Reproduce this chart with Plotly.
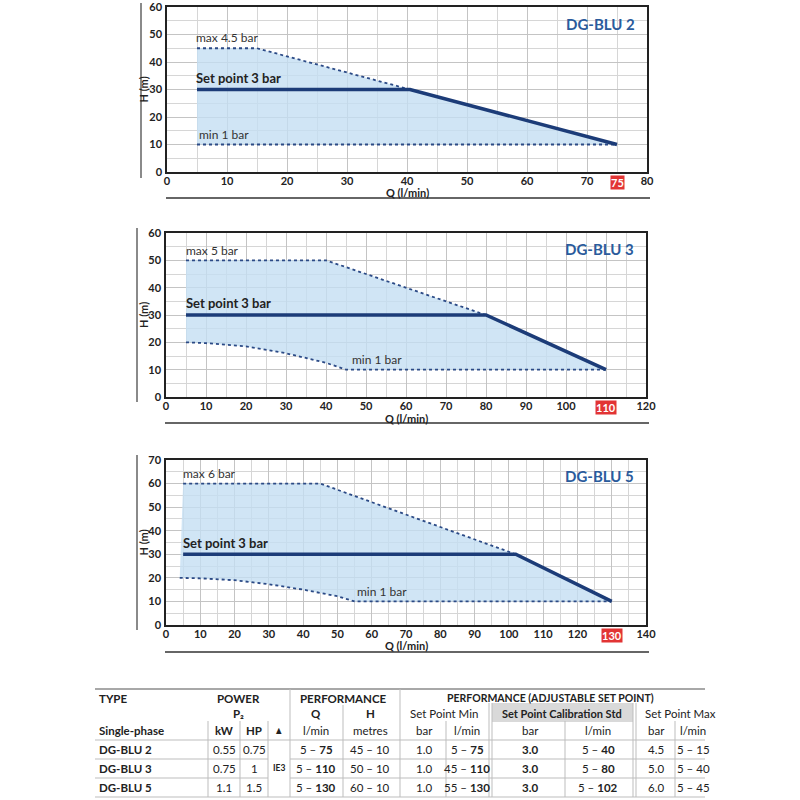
#!/usr/bin/env python3
"""DG-BLU pump curves (set point ranges) with performance table, as Plotly HTML."""
import plotly.graph_objects as go

FONT = "Lato, Liberation Sans Narrow, DejaVu Sans Condensed, sans-serif"
NAVY = "#1c3c78"
DOT = "#2b4a86"
FILL = "rgba(196,223,242,0.8)"
TITLE_BLUE = "#2a5b9c"

# ---- curve data (Q in l/min, H in m) ----
blu2_max_q = [5, 15, 40.5]
blu2_max_h = [45, 45, 30]
blu2_sp_q = [5, 40.5, 75]
blu2_sp_h = [30, 30, 10]
blu2_min_q = [5, 75]
blu2_min_h = [10, 10]

blu3_max_q = [5, 40, 80]
blu3_max_h = [50, 50, 30]
blu3_sp_q = [5, 80, 110]
blu3_sp_h = [30, 30, 10]
blu3_min_q = [5, 10, 20, 30, 40, 45, 110]
blu3_min_h = [20, 19.7, 18.5, 16, 12.5, 10, 10]

blu5_max_q = [5, 45, 102]
blu5_max_h = [60, 60, 30]
blu5_sp_q = [5, 102, 130]
blu5_sp_h = [30, 30, 10]
blu5_min_q = [4, 10, 20, 30, 40, 50, 55, 130]
blu5_min_h = [20, 19.8, 19, 17.3, 15, 12.2, 10, 10]

# ---- table data ----
types = ["DG-BLU 2", "DG-BLU 3", "DG-BLU 5"]
power_kw = ["0.55", "0.75", "1.1"]
power_hp = ["0.75", "1", "1.5"]
q_from = ["5", "5", "5"]
q_to = ["75", "110", "130"]
h_range = ["45 – 10", "50 – 10", "60 – 10"]
spmin_bar = ["1.0", "1.0", "1.0"]
spmin_q_from = ["5", "45", "55"]
spmin_q_to = ["75", "110", "130"]
spstd_bar = ["3.0", "3.0", "3.0"]
spstd_q_from = ["5", "5", "5"]
spstd_q_to = ["40", "80", "102"]
spmax_bar = ["4.5", "5.0", "6.0"]
spmax_q = ["5 – 15", "5 – 40", "5 – 45"]


def px(x):
    return x / 800


def py(y):
    return 1 - y / 800


charts = [
    dict(name="DG-BLU 2", xmax=80, ymax=60, qmax=75,
         max_q=blu2_max_q, max_h=blu2_max_h, sp_q=blu2_sp_q, sp_h=blu2_sp_h,
         min_q=blu2_min_q, min_h=blu2_min_h,
         max_label="max 4.5 bar", min_label_x=5,
         box=(167, 647, 7, 172), vline=(141, 3, 178), hline=198, ytitle=143, xtitle=193),
    dict(name="DG-BLU 3", xmax=120, ymax=60, qmax=110,
         max_q=blu3_max_q, max_h=blu3_max_h, sp_q=blu3_sp_q, sp_h=blu3_sp_h,
         min_q=blu3_min_q, min_h=blu3_min_h,
         max_label="max 5 bar", min_label_x=46,
         box=(166, 646, 233, 397), vline=(137, 228, 402), hline=423, ytitle=143, xtitle=418),
    dict(name="DG-BLU 5", xmax=140, ymax=70, qmax=130,
         max_q=blu5_max_q, max_h=blu5_max_h, sp_q=blu5_sp_q, sp_h=blu5_sp_h,
         min_q=blu5_min_q, min_h=blu5_min_h,
         max_label="max 6 bar", min_label_x=55,
         box=(166, 646, 460, 625), vline=(137, 455, 630), hline=652, ytitle=143, xtitle=645),
]

fig = go.Figure()
annotations = []
shapes = []
layout_axes = {}

for i, c in enumerate(charts, start=1):
    xa = "x" if i == 1 else f"x{i}"
    ya = "y" if i == 1 else f"y{i}"
    # shaded operating region
    fill_q = c["max_q"] + c["sp_q"][2:] + c["min_q"][::-1]
    fill_h = c["max_h"] + c["sp_h"][2:] + c["min_h"][::-1]
    fig.add_trace(go.Scatter(x=fill_q, y=fill_h, fill="toself", fillcolor=FILL,
                             line=dict(width=0), mode="lines", xaxis=xa, yaxis=ya,
                             hoverinfo="skip", showlegend=False))
    fig.add_trace(go.Scatter(x=c["max_q"], y=c["max_h"], mode="lines",
                             line=dict(color=DOT, width=1.8, dash="dot"),
                             xaxis=xa, yaxis=ya, showlegend=False))
    fig.add_trace(go.Scatter(x=c["min_q"], y=c["min_h"], mode="lines",
                             line=dict(color=DOT, width=1.8, dash="dot"),
                             xaxis=xa, yaxis=ya, showlegend=False))
    fig.add_trace(go.Scatter(x=c["sp_q"], y=c["sp_h"], mode="lines",
                             line=dict(color=NAVY, width=3.5),
                             xaxis=xa, yaxis=ya, showlegend=False))

    x0, x1, y0, y1 = c["box"]
    axis_common = dict(
        showline=True, linecolor="#222", linewidth=1.5, mirror=True, automargin=False,
        gridcolor="#c4c4c4", gridwidth=1, zeroline=False, ticks="",
        ticklabeloverflow="allow",
        tickfont=dict(family=FONT, size=11, color="#222", weight="bold"),
        minor=dict(dtick=5, showgrid=True, gridcolor="#d6d6d6", gridwidth=1),
    )
    layout_axes["xaxis" if i == 1 else f"xaxis{i}"] = dict(
        axis_common, domain=[px(x0), px(x1)], range=[0, c["xmax"]], dtick=10,
        anchor=ya, ticklabelstandoff=-2,
    )
    layout_axes["yaxis" if i == 1 else f"yaxis{i}"] = dict(
        axis_common, domain=[py(y1), py(y0)], range=[0, c["ymax"]], dtick=10,
        anchor=xa, ticklabelstandoff=1,
    )

    xd = "x domain" if i == 1 else f"x{i} domain"
    yd = "y domain" if i == 1 else f"y{i} domain"
    # red highlighted max flow label
    annotations.append(dict(x=c["qmax"], y=0, xref=xa, yref=yd, yanchor="top", yshift=-3,
                            text=f"<b>{c['qmax']}</b>", showarrow=False, bgcolor="#e23434",
                            borderpad=0, font=dict(family=FONT, size=11, color="white")))
    # curve labels
    annotations.append(dict(x=c["max_q"][0] - 0.5, y=c["max_h"][0] + 0.3, xref=xa, yref=ya,
                            xanchor="left", yanchor="bottom", text=c["max_label"], showarrow=False,
                            font=dict(family=FONT, size=12, color="#333")))
    annotations.append(dict(x=c["sp_q"][0] - 0.5, y=c["sp_h"][0] + 0.6, xref=xa, yref=ya,
                            xanchor="left", yanchor="bottom", text="<b>Set point 3 bar</b>",
                            showarrow=False, font=dict(family=FONT, size=13, color="#222")))
    annotations.append(dict(x=c["min_label_x"], y=10.2, xref=xa, yref=ya,
                            xanchor="left", yanchor="bottom", text="min 1 bar", showarrow=False,
                            font=dict(family=FONT, size=12, color="#333")))
    # model name
    annotations.append(dict(x=0.98, y=0.9, xref=xd, yref=yd, xanchor="right", yanchor="middle",
                            text=f"<b>{c['name']}</b>", showarrow=False,
                            font=dict(family=FONT, size=15, color=TITLE_BLUE)))
    # axis titles
    annotations.append(dict(x=px(c["ytitle"]), y=0.5, xref="paper", yref=yd, textangle=-90,
                            xanchor="center", yanchor="middle",
                            text="<b>H (m)</b>", showarrow=False,
                            font=dict(family=FONT, size=11, color="#222")))
    annotations.append(dict(x=0.5, y=py(c["xtitle"]), xref=xd, yref="paper",
                            xanchor="center", yanchor="middle",
                            text="<b>Q (l/min)</b>", showarrow=False,
                            font=dict(family=FONT, size=11, color="#222")))
    # decorative rules
    vx, vy0, vy1 = c["vline"]
    shapes.append(dict(type="line", xref="paper", yref="paper", x0=px(vx), x1=px(vx),
                       y0=py(vy0), y1=py(vy1), line=dict(color="#8a8a8a", width=2)))
    shapes.append(dict(type="line", xref="paper", yref="paper", x0=px(x0 - 1), x1=px(x1 + 3),
                       y0=py(c["hline"]), y1=py(c["hline"]), line=dict(color="#333", width=1.5)))

# ---- table ----
TF = dict(family=FONT, size=11.5, color="#222")


def cell(x, y, text, anchor="center", bold=False, size=11.5):
    t = f"<b>{text}</b>" if bold else text
    annotations.append(dict(x=px(x), y=py(y), xref="paper", yref="paper", xanchor=anchor,
                            yanchor="middle", text=t, showarrow=False,
                            font=dict(TF, size=size)))


def hline(y, xa, xb, color="#bdbdbd", width=1):
    shapes.append(dict(type="line", xref="paper", yref="paper", x0=px(xa), x1=px(xb),
                       y0=py(y), y1=py(y), line=dict(color=color, width=width)))


def vline(x, ya, yb, color="#bdbdbd", width=1):
    shapes.append(dict(type="line", xref="paper", yref="paper", x0=px(x), x1=px(x),
                       y0=py(ya), y1=py(yb), line=dict(color=color, width=width)))


# gray header cell behind the standard set point
shapes.append(dict(type="rect", xref="paper", yref="paper", x0=px(492), x1=px(633),
                   y0=py(703), y1=py(722), fillcolor="#d9d9d9", line=dict(width=0)))

hline(689, 95, 705, color="#a8a8a8", width=2)
hline(740, 95, 705, color="#bdbdbd", width=1)
for yy in (759, 778):
    hline(yy, 95, 268)
    hline(yy, 290, 705)
hline(797, 95, 705)

for xx in (208, 240, 268, 446, 565, 675):
    vline(xx, 721, 797)
vline(343, 705, 797)
for xx in (290, 400):
    vline(xx, 689, 797)
for xx in (489, 492, 633, 636):
    vline(xx, 703, 797)

cell(97, 698, "TYPE", "left", True)
cell(238, 698, "POWER", bold=True)
cell(343, 698, "PERFORMANCE", bold=True)
cell(550, 698, "PERFORMANCE (ADJUSTABLE SET POINT)", bold=True, size=10.5)
cell(238, 713, "P₂", bold=True)
cell(316, 713, "Q", bold=True)
cell(370, 713, "H", bold=True)
cell(444, 713, "Set Point Min")
cell(562, 713, "Set Point Calibration Std", bold=True, size=11)
cell(680, 713, "Set Point Max")
cell(97, 730, "Single-phase", "left", True)
cell(224, 730, "kW", bold=True)
cell(254, 730, "HP", bold=True)
cell(279, 730, "▲", size=8)
cell(316, 730, "l/min")
cell(370, 730, "metres")
cell(424, 730, "bar")
cell(467, 730, "l/min")
cell(530, 730, "bar")
cell(598, 730, "l/min")
cell(656, 730, "bar")
cell(693, 730, "l/min")

row_y = [749, 768, 787]
for r, yy in enumerate(row_y):
    cell(97, yy, types[r], "left", True)
    cell(224, yy, power_kw[r])
    cell(254, yy, power_hp[r])
    cell(316, yy, f"{q_from[r]} – <b>{q_to[r]}</b>")
    cell(370, yy, h_range[r])
    cell(424, yy, spmin_bar[r])
    cell(467, yy, f"{spmin_q_from[r]} – <b>{spmin_q_to[r]}</b>")
    cell(530, yy, spstd_bar[r], bold=True)
    cell(598, yy, f"{spstd_q_from[r]} – <b>{spstd_q_to[r]}</b>")
    cell(656, yy, spmax_bar[r])
    cell(693, yy, spmax_q[r])
cell(279, 768, "IE3", bold=True, size=8.5)

fig.update_layout(
    width=800, height=800, autosize=False,
    margin=dict(l=0, r=0, t=0, b=0),
    paper_bgcolor="white", plot_bgcolor="white",
    showlegend=False,
    annotations=annotations, shapes=shapes,
    font=dict(family=FONT),
    **layout_axes,
)

# the page body has a default 8px margin; drop it so the figure fills the window
fig.write_html("out.html", config={"displayModeBar": False},
               post_script="document.body.style.margin='0';")
